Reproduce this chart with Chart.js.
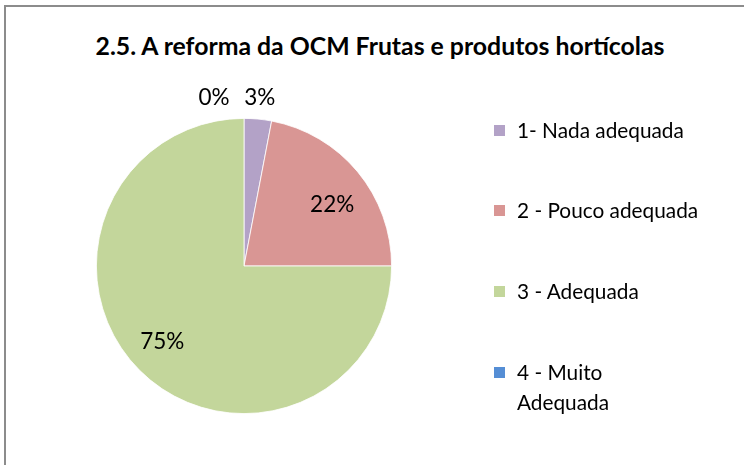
<!DOCTYPE html>
<html>
<head>
<meta charset="utf-8">
<script src="https://cdn.jsdelivr.net/npm/chart.js@4.4.1/dist/chart.umd.min.js"></script>
<style>
  html, body { margin: 0; padding: 0; background: #fff; }
  #wrap { position: relative; width: 744px; height: 465px; overflow: hidden; }
  #frame { position: absolute; left: 4px; top: 5px; width: 760px; height: 480px;
           border-left: 2px solid #8c8c8c; border-top: 2px solid #8c8c8c; box-sizing: border-box; }
  #title { position: absolute; left: 0; width: 760px; top: 29px; text-align: center;
           font: bold 24.8px Lato, "Liberation Sans", sans-serif; color: #000; line-height: 34px; }
  canvas { position: absolute; left: 0; top: 0; }
  #legend { position: absolute; left: 494px; top: 115px; font: 20.8px Lato, "Liberation Sans", sans-serif; color: #000; }
  .item { position: absolute; left: 0; width: 250px; line-height: 30px; }
  .sw { position: absolute; left: 0; top: 10px; width: 11px; height: 11px; }
  .txt { position: absolute; left: 23px; top: 0; width: 220px; }
</style>
</head>
<body>
<div id="wrap">
  <div id="frame"></div>
  <div id="title"></div>
  <canvas id="c" width="744" height="465"></canvas>
  <div id="legend"></div>
</div>
<script>
const chartTitle = "2.5. A reforma da OCM Frutas e produtos hortícolas";
const categories = ["1- Nada adequada", "2 - Pouco adequada", "3 - Adequada", "4 - Muito Adequada"];
const legendLines = [["1- Nada adequada"], ["2 - Pouco adequada"], ["3 - Adequada"], ["4 - Muito", "Adequada"]];
const percentages = [3, 22, 75, 0];
const sliceColors = ["#B3A2C7", "#D99694", "#C3D69B", "#558ED5"];

document.getElementById('title').textContent = chartTitle;

const legend = document.getElementById('legend');
const legendTops = [0, 80, 161, 242];
categories.forEach((c, i) => {
  const it = document.createElement('div');
  it.className = 'item';
  it.style.top = legendTops[i] + 'px';
  const sw = document.createElement('div');
  sw.className = 'sw';
  sw.style.background = sliceColors[i];
  const t = document.createElement('div');
  t.className = 'txt';
  legendLines[i].forEach((s, k) => {
    if (k) t.appendChild(document.createElement('br'));
    t.appendChild(document.createTextNode(s));
  });
  it.appendChild(sw); it.appendChild(t);
  legend.appendChild(it);
});

const pctLabels = {
  id: 'pctLabels',
  afterDatasetsDraw(chart) {
    const ctx = chart.ctx;
    const meta = chart.getDatasetMeta(0);
    const data = chart.data.datasets[0].data;
    ctx.save();
    ctx.font = '22.5px Lato, "Liberation Sans", sans-serif';
    ctx.fillStyle = '#000';
    ctx.textAlign = 'center';
    ctx.textBaseline = 'middle';
    meta.data.forEach((arc, i) => {
      const p = arc.getProps(['x', 'y', 'startAngle', 'endAngle', 'outerRadius'], true);
      let mid = (p.startAngle + p.endAngle) / 2;
      const v = data[i];
      let d, dx = 0, dy = 0;
      if (v >= 10) { d = p.outerRadius * 0.74; mid += 0.06; dy = 3; }
      else d = p.outerRadius + 21;
      if (v === 0) dx = -30;
      const x = p.x + Math.cos(mid) * d + dx;
      const y = p.y + Math.sin(mid) * d + dy;
      ctx.fillText(v + '%', x, y);
    });
    ctx.restore();
  }
};

new Chart(document.getElementById('c'), {
  type: 'pie',
  data: {
    labels: categories,
    datasets: [{
      data: percentages,
      backgroundColor: sliceColors,
      borderColor: '#ffffff',
      borderWidth: 0.8
    }]
  },
  options: {
    responsive: false,
    animation: false,
    layout: { padding: { left: 96, right: 352, top: 118, bottom: 51 } },
    plugins: { legend: { display: false }, tooltip: { enabled: false }, title: { display: false } }
  },
  plugins: [pctLabels]
});
</script>
</body>
</html>
